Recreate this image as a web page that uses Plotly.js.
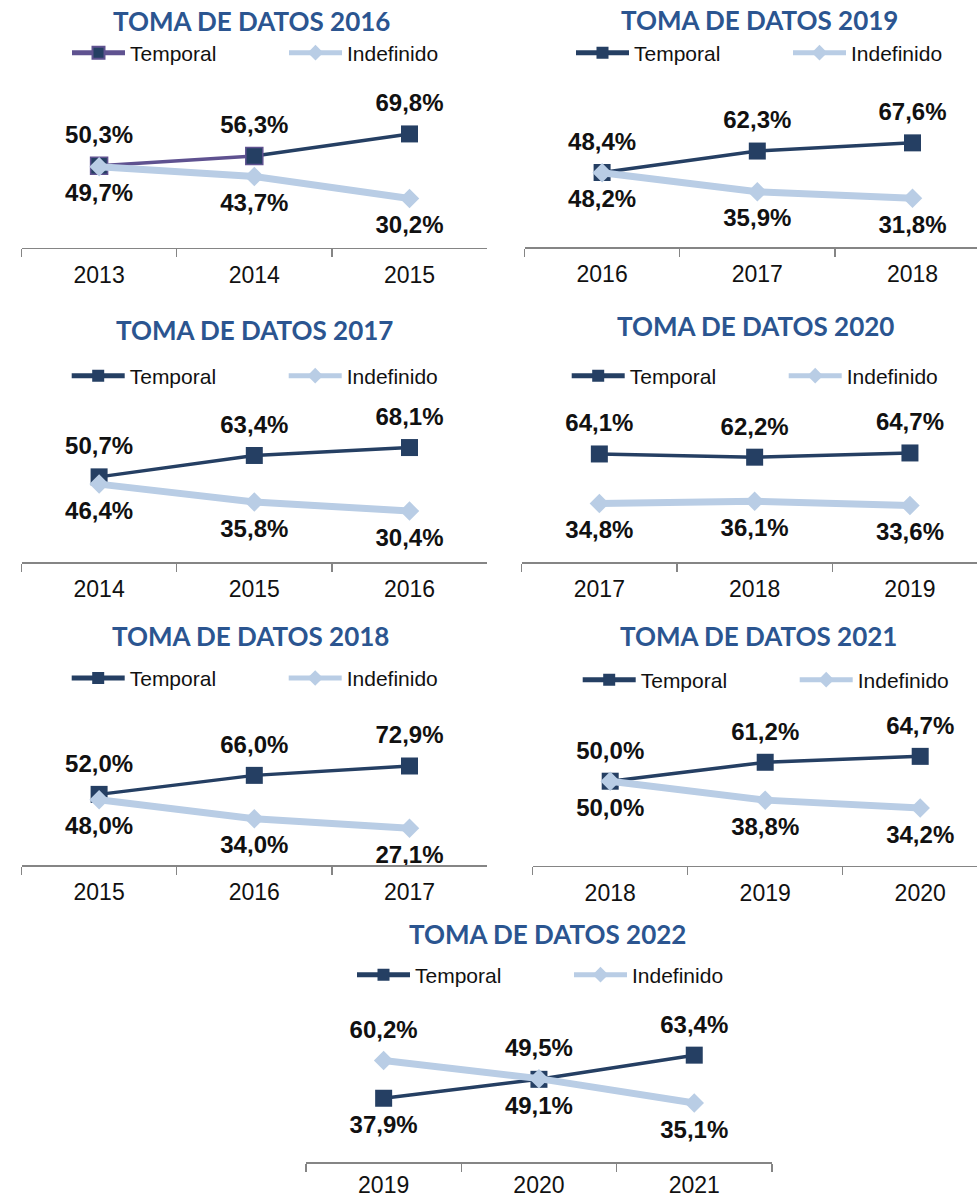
<!DOCTYPE html>
<html>
<head>
<meta charset="utf-8">
<script src="https://cdn.plot.ly/plotly-3.0.1.min.js"></script>
<style>html,body{margin:0;padding:0;background:#fff}#chart{width:977px;height:1199px}</style>
</head>
<body>
<div id="chart"></div>
<script>
// ---- DATA ----
const years2016 = ['2013', '2014', '2015'];
const temporal2016 = [50.3, 56.3, 69.8];
const indefinido2016 = [49.7, 43.7, 30.2];

const years2017 = ['2014', '2015', '2016'];
const temporal2017 = [50.7, 63.4, 68.1];
const indefinido2017 = [46.4, 35.8, 30.4];

const years2018 = ['2015', '2016', '2017'];
const temporal2018 = [52.0, 66.0, 72.9];
const indefinido2018 = [48.0, 34.0, 27.1];

const years2019 = ['2016', '2017', '2018'];
const temporal2019 = [48.4, 62.3, 67.6];
const indefinido2019 = [48.2, 35.9, 31.8];

const years2020 = ['2017', '2018', '2019'];
const temporal2020 = [64.1, 62.2, 64.7];
const indefinido2020 = [34.8, 36.1, 33.6];

const years2021 = ['2018', '2019', '2020'];
const temporal2021 = [50.0, 61.2, 64.7];
const indefinido2021 = [50.0, 38.8, 34.2];

const years2022 = ['2019', '2020', '2021'];
const temporal2022 = [37.9, 49.1, 63.4];
const indefinido2022 = [60.2, 49.5, 35.1];

const seriesNames = ['Temporal', 'Indefinido'];
const titles = ['TOMA DE DATOS 2016', 'TOMA DE DATOS 2019', 'TOMA DE DATOS 2017', 'TOMA DE DATOS 2020',
                'TOMA DE DATOS 2018', 'TOMA DE DATOS 2021', 'TOMA DE DATOS 2022'];

// ---- LAYOUT / STYLE ----
const W = 977, H = 1199;
const fx = v => v / W, fy = v => 1 - v / H;
const NAVY = '#253F63', LIGHT = '#B9CDE5', PURPLE = '#5F5290', TITLE = '#2B5590', AXIS = '#858585';
const ARIAL = 'Liberation Sans, Arial, sans-serif';
const LBL_FONT = {family: ARIAL, size: 24, color: '#111', weight: 'bold'};

const panels = [
  {years: years2016, t: temporal2016, i: indefinido2016, x0: 21.5, x1: 487, step: 155.2, yb: 247.7, scale: 1.63, tx: 251, ty: 20.5, lx: 72, ly: 53, split: true},
  {years: years2019, t: temporal2019, i: indefinido2019, x0: 524.5, x1: 977, step: 155.2, yb: 247.3, scale: 1.545, tx: 759.5, ty: 20, lx: 576, ly: 53},
  {years: years2017, t: temporal2017, i: indefinido2017, x0: 21.5, x1: 487, step: 155.2, yb: 562.3, scale: 1.685, tx: 254, ty: 330.3, lx: 71.7, ly: 376},
  {years: years2020, t: temporal2020, i: indefinido2020, x0: 521.7, x1: 977, step: 155.3, yb: 562.3, scale: 1.69, tx: 755, ty: 326.3, lx: 571.7, ly: 376},
  {years: years2018, t: temporal2018, i: indefinido2018, x0: 21.5, x1: 487, step: 155.2, yb: 865, scale: 1.358, tx: 250, ty: 636.3, lx: 71.7, ly: 678.3},
  {years: years2021, t: temporal2021, i: indefinido2021, x0: 532.7, x1: 977, step: 155, yb: 865.7, scale: 1.69, tx: 758.8, ty: 636.3, lx: 582.7, ly: 680},
  {years: years2022, t: temporal2022, i: indefinido2022, x0: 306, x1: 772, step: 155.3, yb: 1162.3, scale: 1.69, tx: 547.2, ty: 933.7, lx: 357, ly: 975, standoff: 2}
];

const fmt = v => v.toFixed(1).replace('.', ',') + '%';

const data = [];
const labelTraces = [];
const annotations = [];
const layout = {
  width: W, height: H,
  margin: {l: 0, r: 0, t: 0, b: 0, autoexpand: false},
  paper_bgcolor: '#fff', plot_bgcolor: 'rgba(0,0,0,0)',
  showlegend: true,
  font: {family: ARIAL, color: '#111'},
  annotations: annotations
};

panels.forEach((p, k) => {
  const n = k + 1;
  const xa = n === 1 ? 'x' : 'x' + n, ya = n === 1 ? 'y' : 'y' + n;
  const lg = n === 1 ? 'legend' : 'legend' + n;
  const yMax = 100;
  const hpx = p.scale * yMax;

  layout[n === 1 ? 'xaxis' : 'xaxis' + n] = {
    type: 'category', categoryorder: 'array', categoryarray: p.years,
    domain: [fx(p.x0), fx(p.x1)], anchor: ya,
    range: [-0.5, -0.5 + (p.x1 - p.x0) / p.step],
    showline: true, linecolor: AXIS, linewidth: 1.5,
    ticks: 'outside', tickson: 'boundaries', ticklen: 8, tickcolor: AXIS, tickwidth: 1.5,
    ticklabelstandoff: p.standoff !== undefined ? p.standoff : 6,
    showgrid: false, zeroline: false, fixedrange: true,
    tickfont: {family: ARIAL, size: 23, color: '#111'}
  };
  layout[n === 1 ? 'yaxis' : 'yaxis' + n] = {
    domain: [fy(p.yb), fy(p.yb - hpx)], anchor: xa, range: [0, yMax],
    visible: false, showgrid: false, zeroline: false, fixedrange: true
  };
  layout[lg] = {
    orientation: 'h', x: fx(p.lx - 5), y: fy(p.ly), xanchor: 'left', yanchor: 'middle',
    bgcolor: 'rgba(0,0,0,0)', borderwidth: 0, itemwidth: 53, entrywidth: 149, entrywidthmode: 'pixels',
    itemsizing: 'constant', itemclick: false, itemdoubleclick: false,
    font: {family: ARIAL, size: 21, color: '#111'}
  };

  const base = {xaxis: xa, yaxis: ya, legend: lg, type: 'scatter', mode: 'lines+markers', hoverinfo: 'skip', cliponaxis: false};
  if (p.split) {
    data.push(Object.assign({}, base, {
      x: p.years.slice(1), y: p.t.slice(1), name: seriesNames[0], showlegend: false,
      line: {color: NAVY, width: 3.5}, marker: {symbol: 'square', size: 17, color: NAVY}
    }));
    data.push(Object.assign({}, base, {
      x: p.years.slice(0, 2), y: p.t.slice(0, 2), name: seriesNames[0],
      line: {color: PURPLE, width: 3.5}, marker: {symbol: 'square', size: 17, color: NAVY, line: {color: PURPLE, width: 1.5}}
    }));
  } else {
    data.push(Object.assign({}, base, {
      x: p.years, y: p.t, name: seriesNames[0],
      line: {color: NAVY, width: 3.5}, marker: {symbol: 'square', size: 17, color: NAVY}
    }));
  }
  data.push(Object.assign({}, base, {
    x: p.years, y: p.i, name: seriesNames[1],
    line: {color: LIGHT, width: 7}, marker: {symbol: 'diamond', size: 15, color: LIGHT}
  }));

  // data labels: larger value above its marker, smaller one below
  const tPos = p.t.map((v, j) => v >= p.i[j] ? 'top center' : 'bottom center');
  const iPos = p.i.map((v, j) => v > p.t[j] ? 'top center' : 'bottom center');
  [[p.t, tPos], [p.i, iPos]].forEach(([vals, pos]) => {
    labelTraces.push({
      xaxis: xa, yaxis: ya, type: 'scatter', mode: 'markers+text', hoverinfo: 'skip', showlegend: false, cliponaxis: false,
      x: p.years, y: vals, text: vals.map(fmt), textposition: pos, textfont: LBL_FONT,
      marker: {size: 25, color: 'rgba(0,0,0,0)'}
    });
  });

  annotations.push({xref: 'paper', yref: 'paper', x: fx(p.tx), y: fy(p.ty), xanchor: 'center', yanchor: 'middle',
    text: titles[k], showarrow: false,
    font: {family: 'Lato, Open Sans, sans-serif', size: 26, color: TITLE, weight: 'bold'}});
});

Plotly.newPlot('chart', data.concat(labelTraces), layout, {displayModeBar: false, staticPlot: true});
</script>
</body>
</html>
